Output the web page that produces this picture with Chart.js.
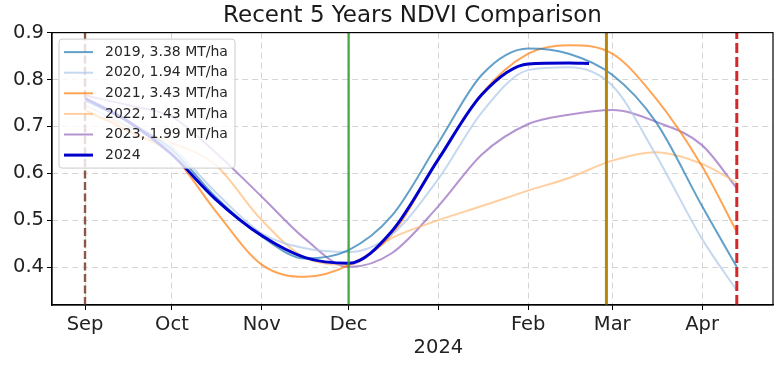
<!DOCTYPE html>
<html>
<head>
<meta charset="utf-8">
<script src="https://cdn.jsdelivr.net/npm/chart.js@4/dist/chart.umd.min.js"></script>
<style>
  html, body { margin: 0; padding: 0; background: #fff; }
  #wrap { width: 782px; height: 366px; }
</style>
</head>
<body>
<div id="wrap"><canvas id="ndvi" width="782" height="366"></canvas></div>
<script>
// Data (x = days since 1 Sep 2023)
const days = [0, 15, 30, 45, 61, 76, 91, 106, 122, 137, 153, 167, 182, 197, 213, 225];
const ndvi2019 = [0.755, 0.71, 0.65, 0.55, 0.465, 0.418, 0.436, 0.51, 0.665, 0.81, 0.866, 0.855, 0.81, 0.71, 0.53, 0.40];
const ndvi2020 = [0.745, 0.70, 0.655, 0.56, 0.472, 0.44, 0.432, 0.47, 0.588, 0.73, 0.82, 0.826, 0.787, 0.64, 0.46, 0.35];
const ndvi2021 = [0.735, 0.69, 0.64, 0.52, 0.405, 0.379, 0.404, 0.47, 0.63, 0.77, 0.855, 0.873, 0.855, 0.76, 0.615, 0.475];
const ndvi2022 = [0.728, 0.70, 0.665, 0.618, 0.50, 0.42, 0.405, 0.462, 0.50, 0.53, 0.563, 0.59, 0.627, 0.645, 0.62, 0.58];
const ndvi2023 = [0.766, 0.745, 0.72, 0.645, 0.55, 0.46, 0.40, 0.43, 0.53, 0.64, 0.705, 0.725, 0.735, 0.71, 0.66, 0.568];
const days2024 = [0, 15, 30, 45, 61, 76, 91, 106, 122, 137, 153, 167, 174];
const ndvi2024 = [0.76, 0.71, 0.64, 0.545, 0.467, 0.42, 0.408, 0.477, 0.63, 0.768, 0.833, 0.835, 0.834];

const seriesLabels = ['2019, 3.38 MT/ha', '2020, 1.94 MT/ha', '2021, 3.43 MT/ha', '2022, 1.43 MT/ha', '2023, 1.99 MT/ha', '2024'];
const seriesColors = ['rgba(31,119,180,0.7)', 'rgba(174,199,232,0.7)', 'rgba(255,127,14,0.7)', 'rgba(255,187,120,0.7)', 'rgba(148,103,189,0.7)', '#0000cd'];

// month ticks
const monthDays = [0, 30, 61, 91, 122, 153, 182, 213];
const monthLabels = ['Sep', 'Oct', 'Nov', 'Dec', ['', '2024'], 'Feb', 'Mar', 'Apr'];
const yTicks = [0.4, 0.5, 0.6, 0.7, 0.8, 0.9];
const xMin = -11.4, xMax = 237.5;
const yMin = 0.319, yMax = 0.9;

// vertical markers: sowing, Dec 1, Feb 28, Apr 13
const markerDays = [0, 91, 180, 225];
const markerColors = ['#8c564b', 'rgba(44,160,44,0.85)', '#b8860b', '#d62728'];
const markerDash = [[8, 3.5], [], [], [10, 4]];
const markerWidths = [2.4, 2.4, 3, 3];

const FONT = "'DejaVu Sans', sans-serif";

function pts(xs, ys) { return xs.map((x, i) => ({ x, y: ys[i] })); }

const allSeries = [ndvi2019, ndvi2020, ndvi2021, ndvi2022, ndvi2023];
const datasets = [];
markerDays.forEach((d, i) => {
  datasets.push({
    label: 'marker' + i,
    data: [{ x: d, y: yMin }, { x: d, y: yMax }],
    borderColor: markerColors[i], borderDash: markerDash[i], borderWidth: markerWidths[i],
    pointRadius: 0, tension: 0, order: 0
  });
});
allSeries.forEach((s, i) => {
  datasets.push({
    label: seriesLabels[i], data: pts(days, s),
    borderColor: seriesColors[i], borderWidth: 2,
    pointRadius: 0, cubicInterpolationMode: 'monotone', order: 2
  });
});
datasets.push({
  label: seriesLabels[5], data: pts(days2024, ndvi2024),
  borderColor: seriesColors[5], borderWidth: 3,
  pointRadius: 0, cubicInterpolationMode: 'monotone', order: 1
});

// frame + legend drawn inside the plot like matplotlib
const boxPlugin = {
  id: 'boxLegend',
  afterDatasetsDraw(chart) {
    const { ctx, chartArea: a } = chart;
    ctx.save();
    ctx.strokeStyle = '#000';
    ctx.lineWidth = 1.2;
    ctx.strokeRect(a.left, a.top, a.right - a.left, a.bottom - a.top);

    // legend
    const bx = a.left + 7, by = a.top + 6.5, bw = 176, bh = 129, r = 3;
    ctx.beginPath();
    ctx.moveTo(bx + r, by);
    ctx.arcTo(bx + bw, by, bx + bw, by + bh, r);
    ctx.arcTo(bx + bw, by + bh, bx, by + bh, r);
    ctx.arcTo(bx, by + bh, bx, by, r);
    ctx.arcTo(bx, by, bx + bw, by, r);
    ctx.closePath();
    ctx.fillStyle = 'rgba(255,255,255,0.8)';
    ctx.fill();
    ctx.lineWidth = 1;
    ctx.strokeStyle = '#cccccc';
    ctx.stroke();

    ctx.font = '14px ' + FONT;
    ctx.textBaseline = 'middle';
    ctx.fillStyle = '#262626';
    seriesLabels.forEach((lab, i) => {
      const y = by + 13 + i * 20.6;
      ctx.beginPath();
      ctx.strokeStyle = seriesColors[i];
      ctx.lineWidth = i === 5 ? 3 : 2;
      ctx.moveTo(bx + 5, y);
      ctx.lineTo(bx + 34, y);
      ctx.stroke();
      ctx.fillText(lab, bx + 46, y);
    });
    ctx.restore();
  }
};

new Chart(document.getElementById('ndvi'), {
  type: 'line',
  data: { datasets },
  plugins: [boxPlugin],
  options: {
    responsive: false,
    animation: false,
    layout: { padding: { left: 0, right: 9, top: 0, bottom: 0 } },
    plugins: {
      legend: { display: false },
      tooltip: { enabled: false },
      title: {
        display: true, fullSize: false,
        text: 'Recent 5 Years NDVI Comparison',
        color: '#1a1a1a',
        font: { family: FONT, size: 23, weight: 'normal' },
        padding: { top: 2, bottom: 3 }
      }
    },
    scales: {
      x: {
        type: 'linear', min: xMin, max: xMax,
        afterBuildTicks: s => { s.ticks = monthDays.map(v => ({ value: v })); },
        afterFit: s => { s.height = 61; },
        ticks: {
          autoSkip: false, maxRotation: 0, padding: 3,
          color: '#222', font: { family: FONT, size: 19.5 },
          callback: (v, i) => monthLabels[i]
        },
        grid: { color: '#d4d4d4', tickColor: '#000', tickLength: 5, lineWidth: 1 },
        border: { display: true, color: '#000', width: 1.2, dash: [6, 4] }
      },
      y: {
        min: yMin, max: yMax,
        afterBuildTicks: s => { s.ticks = yTicks.map(v => ({ value: v })); },
        afterFit: s => { s.width = 52; },
        ticks: {
          padding: 3, color: '#222', font: { family: FONT, size: 19.5 },
          callback: v => v.toFixed(1)
        },
        grid: { color: '#d4d4d4', tickColor: '#000', tickLength: 5, lineWidth: 1 },
        border: { display: true, color: '#000', width: 1.2, dash: [6, 4] }
      }
    }
  }
});
</script>
</body>
</html>
